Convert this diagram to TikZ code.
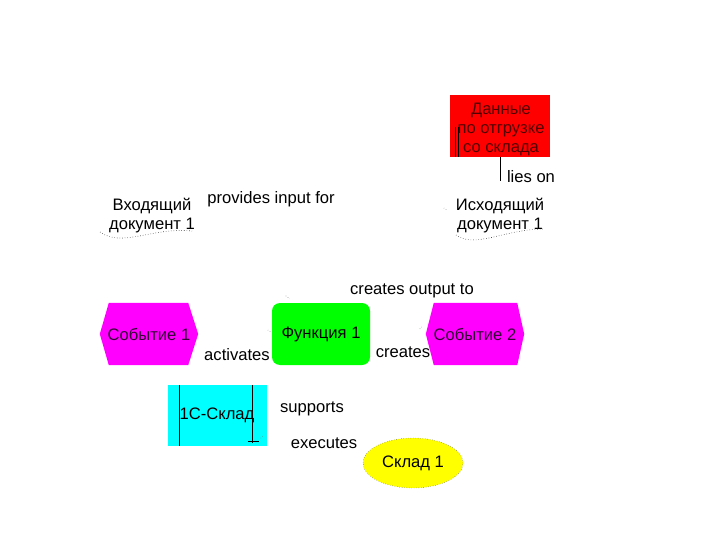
\documentclass[tikz,border=0pt]{standalone}
\usepackage{fontspec}
\setmainfont{Liberation Sans}
\usetikzlibrary{shapes.geometric,backgrounds}
\definecolor{redtext}{RGB}{80,0,0}
\definecolor{magtext}{RGB}{50,0,50}
\definecolor{evfill}{RGB}{255,0,255}
\definecolor{funcfill}{RGB}{0,255,0}
\definecolor{sysfill}{RGB}{0,255,255}
\definecolor{orgfill}{RGB}{255,255,0}
\definecolor{datafill}{RGB}{255,0,0}
\tikzset{
  base/.style={font=\fontsize{16.6}{19}\selectfont, inner sep=0pt, align=center},
  lbl/.style={base},
  databox/.style={base, fill=datafill, minimum width=100pt, minimum height=62pt},
  funcbox/.style={base, fill=funcfill, rounded corners=8pt, minimum width=98pt, minimum height=62pt},
  evbox/.style={base, text=magtext, minimum width=98pt, minimum height=62pt},
  sysbox/.style={base, fill=sysfill, minimum width=99pt, minimum height=61pt},
  orgbox/.style={base, ellipse, fill=orgfill, draw=black!80, dotted, minimum width=100pt, minimum height=50pt},
  docbox/.style={base, minimum width=92pt, minimum height=40pt},
  frag/.style={black, line width=0.7pt},
  wave/.style={black!75, dotted, line width=0.6pt},
  tick/.style={black!60, line width=0.5pt, dotted}
}
\begin{document}
\begin{tikzpicture}[x=1pt,y=-1pt]
\useasboundingbox (0,0) rectangle (720,540);
% nodes
\node[databox] (data) at (500,126) {};
\node[base, text=redtext] (datat) at (501,129) {Данные\\по отгрузке\\со склада};
\node[docbox] (indoc) at (152,216) {Входящий\\документ 1};
\node[docbox] (outdoc) at (500,216) {Исходящий\\документ 1};
\node[funcbox] (func) at (321,334) {Функция 1};
\node[evbox] (ev1) at (149,334) {Событие 1};
\node[evbox] (ev2) at (475,334) {Событие 2};
\node[sysbox] (sys) at (217,415.5) {1С-Склад};
\node[orgbox] (org) at (413,463) {};
\node[base] (orgt) at (org.center) {Склад 1};
% hexagon fills
\begin{scope}[on background layer]
\fill[evfill] (ev1.west) -- ([xshift=9pt]ev1.north west) -- ([xshift=-10pt]ev1.north east) -- (ev1.east) -- ([xshift=-10pt]ev1.south east) -- ([xshift=9pt]ev1.south west) -- cycle;
\fill[evfill] (ev2.west) -- ([xshift=8pt]ev2.north west) -- ([xshift=-7pt]ev2.north east) -- (ev2.east) -- ([xshift=-7pt]ev2.south east) -- ([xshift=8pt]ev2.south west) -- cycle;
\end{scope}
% labels
\node[lbl] (lprov) at (271,199) {provides input for};
\node[lbl] (llies) at (531,176.5) {lies on};
\node[lbl] (lcout) at (412,290.5) {creates output to};
\node[lbl] (lact) at (237,354.5) {activates};
\node[lbl] (lcre) at (403,352.5) {creates};
\node[lbl] (lsup) at (312,408.5) {supports};
\node[lbl] (lexe) at (324,443.5) {executes};
% connector fragments
\coordinate (liesend) at ([yshift=-24pt]data.south);
\draw[frag] (data.south) -- (liesend);
\draw[frag] ([xshift=6pt,yshift=-32pt]data.north west) -- ([xshift=6pt]data.south west);
\draw[frag] ([xshift=9pt,yshift=-32pt]data.north west) -- ([xshift=9pt]data.south west);
\draw[frag] ([xshift=12pt]sys.north west) -- ([xshift=12pt]sys.south west);
\draw[frag] ([xshift=-14pt]sys.north east) -- ([xshift=-14pt,yshift=3pt]sys.south east);
\draw[frag] ([xshift=-19pt,yshift=5pt]sys.south east) -- ([xshift=-8pt,yshift=5pt]sys.south east);
\draw[tick] ([xshift=-6pt,yshift=8pt]sys.south east) -- ([xshift=-3pt,yshift=11pt]sys.south east);
% document wavy bottoms
\draw[wave] ([shift={(-52,16)}]indoc.center) .. controls ([shift={(-30,32)}]indoc.center) and ([shift={(0,11)}]indoc.center) .. ([shift={(40,15)}]indoc.center);
\draw[wave] ([shift={(-44,19)}]outdoc.center) .. controls ([shift={(-25,33)}]outdoc.center) and ([shift={(5,13)}]outdoc.center) .. ([shift={(44,13)}]outdoc.center);
% tiny arrow-tip marks
\draw[tick] ([xshift=14pt,yshift=7pt]func.north west) -- ([xshift=18pt,yshift=4pt]func.north west);
\draw[tick] ([xshift=-4pt,yshift=4pt]func.west) -- ([xshift=-1pt,yshift=2pt]func.west);
\draw[tick] ([xshift=-6pt,yshift=5pt]ev2.west) -- ([xshift=-4pt,yshift=7pt]ev2.west);
\draw[tick] ([xshift=-10pt,yshift=8pt]outdoc.west) -- ([xshift=-7pt,yshift=6pt]outdoc.west);
\end{tikzpicture}
\end{document}
